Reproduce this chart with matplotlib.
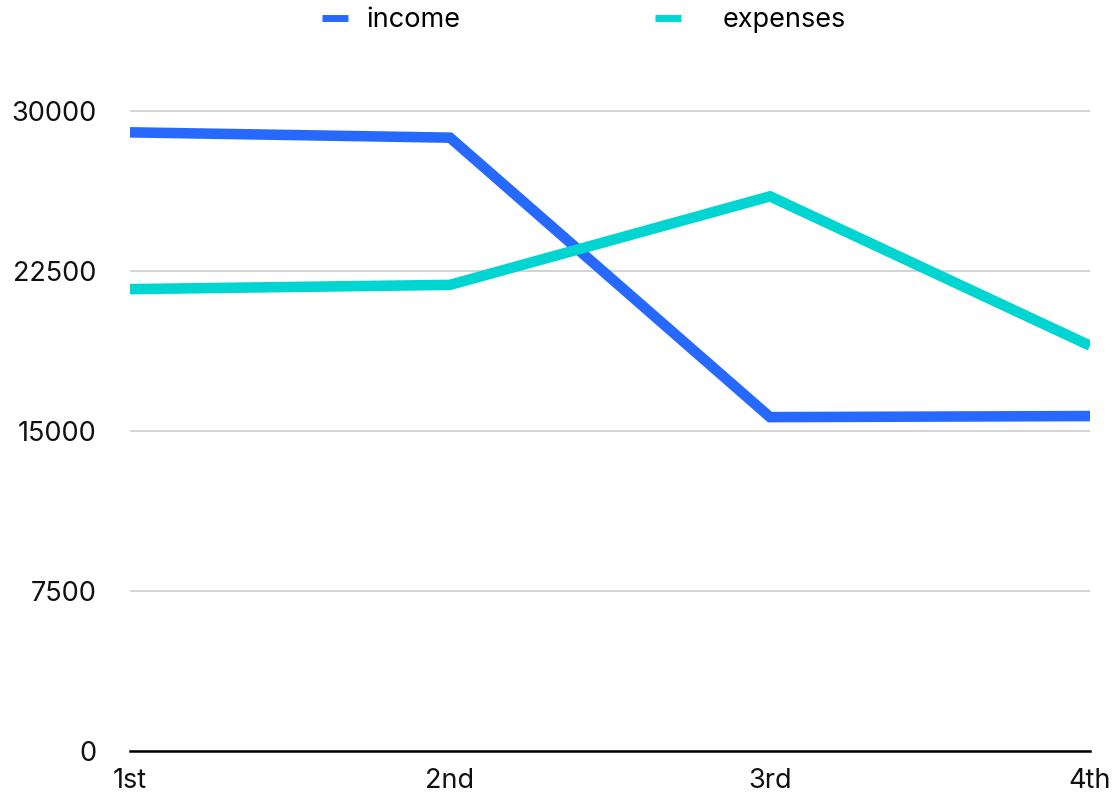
import matplotlib
matplotlib.use('Agg')
import matplotlib.pyplot as plt

# data
quarters = ['1st', '2nd', '3rd', '4th']
income = [29000, 28750, 15650, 15700]
expenses = [21650, 21850, 26000, 19000]
yticks = [0, 7500, 15000, 22500, 30000]

plt.rcParams['font.family'] = ['Inter', 'DejaVu Sans']

W, H = 1117, 800
fig = plt.figure(figsize=(W / 100, H / 100), dpi=100)
ax = fig.add_axes([130/W, 1 - 751/H, 960/W, 672/H])

x = range(len(quarters))
l1, = ax.plot(x, income, color='#2769ff', lw=7.6, label='income',
              solid_capstyle='butt', solid_joinstyle='miter')
l2, = ax.plot(x, expenses, color='#00d5d2', lw=7.6, label='expenses',
              solid_capstyle='butt', solid_joinstyle='miter')

ax.set_xlim(0, len(quarters) - 1)
ax.set_ylim(0, 31500)
ax.set_yticks(yticks)
ax.set_yticklabels([str(v) for v in yticks])
ax.set_xticks(list(x))
ax.set_xticklabels(quarters)

ax.grid(axis='y', color='#cccccc', lw=1.2)
ax.set_axisbelow(True)
for s in ['top', 'right', 'left']:
    ax.spines[s].set_visible(False)
ax.spines['bottom'].set_color('black')
ax.spines['bottom'].set_linewidth(1.8)
ax.tick_params(axis='both', length=0, labelsize=19.5, colors='#111111')
ax.tick_params(axis='y', pad=24)
ax.tick_params(axis='x', pad=12)

# two separate legend entries, the gaps differ in the reference
leg1 = fig.legend([l1], ['income'], loc='center left',
                  bbox_to_anchor=(322/W, 1 - 20/H), frameon=False,
                  fontsize=19.5, handlelength=0.95, handletextpad=0.68,
                  borderpad=0, borderaxespad=0)
leg2 = fig.legend([l2], ['expenses'], loc='center left',
                  bbox_to_anchor=(655/W, 1 - 20/H), frameon=False,
                  fontsize=19.5, handlelength=0.95, handletextpad=1.55,
                  borderpad=0, borderaxespad=0)
for lg in (leg1, leg2):
    for h in lg.get_lines():
        h.set_linewidth(5)

fig.savefig('out.png', dpi=100)
